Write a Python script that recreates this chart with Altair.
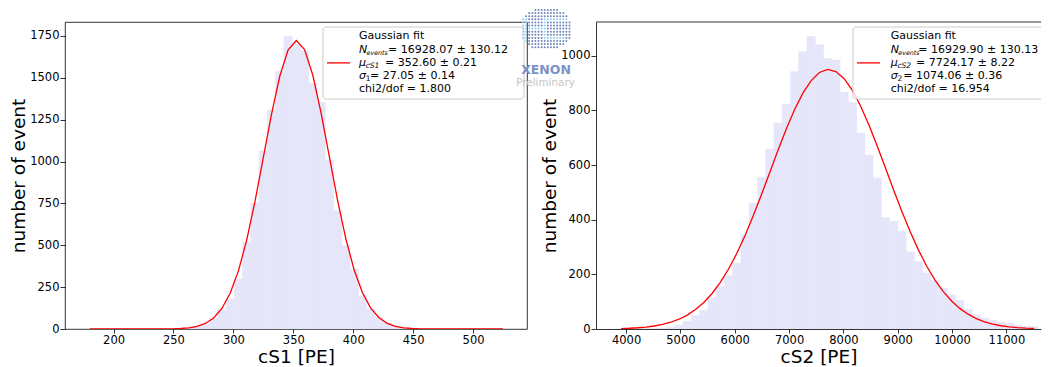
import altair as alt
import pandas as pd

FONT = "DejaVu Sans"

# ---------------- cS1 histogram (bin centres = start + i * width) ----------------
cs1_bin_start = 180.0
cs1_bin_width = 6.9
cs1_counts = [0, 0, 0, 0, 0, 0, 0, 0, 0, 0,
              1, 3, 8, 16, 30, 62, 115, 179, 298, 517,
              752, 1064, 1307, 1537, 1746, 1700, 1661, 1466, 1353, 1008,
              706, 497, 358, 199, 119, 70, 36, 20, 10, 5,
              2, 1, 0, 0, 0, 0, 0, 0, 0, 0, 0]
cs1_fit = [0, 0, 0, 0, 0, 0, 0.01, 0.04, 0.14, 0.41,
           1.1, 2.9, 7.0, 15.7, 33.3, 65.9, 122.4, 213, 347, 531,
           760, 1020, 1282, 1509, 1666, 1722.6, 1669, 1515, 1289, 1027,
           767, 537, 352, 216, 124.5, 67.2, 34.0, 16.1, 7.1, 3.0,
           1.2, 0.42, 0.14, 0.04, 0.01, 0, 0, 0, 0, 0, 0]

# ---------------- cS2 histogram ----------------
cs2_bin_start = 3910.0
cs2_bin_width = 152.0
cs2_counts = [0, 0, 1, 1, 2, 3, 6, 14, 28, 49,
              69, 113, 155, 195, 241, 345, 461, 555, 658, 753,
              823, 942, 1015, 1070, 1040, 990, 984, 866, 828, 716,
              636, 553, 408, 394, 357, 282, 247, 205, 177, 149,
              125, 104, 72, 52, 40, 31, 25, 19, 14, 10, 8]
cs2_fit = [1.7, 2.8, 4.6, 7.2, 11.0, 16.7, 24.7, 35.8, 50.9, 71.0,
           97.1, 130.0, 170.7, 219.6, 277.0, 342.5, 415.1, 493.1, 574.0, 655.0,
           732.6, 803.2, 863.2, 909.2, 938.7, 949.9, 942.2, 916.1, 873.0, 815.4,
           746.5, 669.8, 589.2, 508.0, 429.3, 355.6, 288.7, 229.7, 179.2, 137.0,
           102.6, 75.4, 54.3, 38.3, 26.5, 18.0, 11.9, 7.8, 5.0, 3.1, 1.9]

cs1_xticks = [200, 250, 300, 350, 400, 450, 500]
cs1_yticks = [0, 250, 500, 750, 1000, 1250, 1500, 1750]
cs2_xticks = [4000, 5000, 6000, 7000, 8000, 9000, 10000, 11000]
cs2_yticks = [0, 200, 400, 600, 800, 1000]

cs1_legend = {
    "title": "Gaussian fit",
    "n": ("N", "events", "= 16928.07 \u00b1 130.12"),
    "mu": ("\u03bc", "cS1", "= 352.60 \u00b1 0.21"),
    "sigma": ("\u03c3", "1", "= 27.05 \u00b1 0.14"),
    "chi": "chi2/dof = 1.800",
}
cs2_legend = {
    "title": "Gaussian fit",
    "n": ("N", "events", "= 16929.90 \u00b1 130.13"),
    "mu": ("\u03bc", "cS2", "= 7724.17 \u00b1 8.22"),
    "sigma": ("\u03c3", "2", "= 1074.06 \u00b1 0.36"),
    "chi": "chi2/dof = 16.954",
}

W1, W2, H = 462, 445, 307
one = pd.DataFrame({"a": [0]})
BAR = "#e6e6fa"


def hist_frame(start, width, counts, fit):
    centers = [start + width * i for i in range(len(counts))]
    return pd.DataFrame({
        "center": centers,
        "lo": [c - width / 2 for c in centers],
        "hi": [c + width / 2 for c in centers],
        "count": counts,
        "fit": fit,
    })


def txt(x, y, s, size=11, style="normal", dy=0, clip=False):
    return alt.Chart(one).mark_text(
        align="left", baseline="middle", font=FONT, fontSize=size,
        fontStyle=style, color="black", dy=dy, clip=clip
    ).encode(x=alt.value(x), y=alt.value(y), text=alt.value(s))


def legend_layers(leg, bx, tx, eq_n, eq_mu, eq_sig, clip=False):
    ys = [14.3, 27.6, 40.9, 54.2, 67.0]
    box = alt.Chart(one).mark_rect(
        fill="white", fillOpacity=0.8, stroke="#cccccc", strokeWidth=1, cornerRadius=3,
        clip=clip
    ).encode(x=alt.value(bx), x2=alt.value(bx + 201), y=alt.value(5), y2=alt.value(77))
    sample = alt.Chart(one).mark_rule(color="red", strokeWidth=1.3).encode(
        x=alt.value(bx + 4), x2=alt.value(bx + 27), y=alt.value(ys[2])
    )
    layers = [box, sample, txt(tx, ys[0], leg["title"], clip=clip)]
    n = leg["n"]
    layers += [txt(tx, ys[1], n[0], style="italic", clip=clip),
               txt(tx + 7.6, ys[1], n[1], size=6.3, style="italic", dy=3, clip=clip),
               txt(tx + eq_n, ys[1], n[2], clip=clip)]
    m = leg["mu"]
    layers += [txt(tx, ys[2], m[0], style="italic", clip=clip),
               txt(tx + 6.7, ys[2], m[1], size=7.5, style="italic", dy=3, clip=clip),
               txt(tx + eq_mu, ys[2], m[2], clip=clip)]
    s = leg["sigma"]
    layers += [txt(tx, ys[3], s[0], style="italic", clip=clip),
               txt(tx + 6.7, ys[3], s[1], size=7.5, dy=3, clip=clip),
               txt(tx + eq_sig, ys[3], s[2], clip=clip)]
    layers.append(txt(tx, ys[4], leg["chi"], clip=clip))
    return layers


def panel(df, w, xdom, xticks, ydom, yticks, xtitle, legend, extra=None, spines=False):
    xs = alt.Scale(domain=xdom, nice=False, zero=False)
    ys = alt.Scale(domain=ydom, nice=False, zero=True)
    dom = dict(domain=True, domainColor="black", domainWidth=0.8) if spines else {}
    bars = alt.Chart(df).mark_rect(color=BAR, stroke=BAR, strokeWidth=0.6, clip=True).encode(
        x=alt.X("lo:Q", scale=xs,
                axis=alt.Axis(values=xticks, format="d", title=xtitle, tickSize=4,
                              labelPadding=1, titlePadding=1.5, **dom)),
        x2="hi:Q",
        y=alt.Y("count:Q", scale=ys,
                axis=alt.Axis(values=yticks, format="d", title="number of event",
                              tickSize=5, labelPadding=1, titlePadding=1.5, **dom)),
        y2=alt.datum(0),
    )
    line = alt.Chart(df).mark_line(color="red", strokeWidth=1.3, clip=True).encode(
        x="center:Q", y="fit:Q"
    )
    layers = [bars, line] + legend
    if spines:
        layers.append(alt.Chart(one).mark_rule(color="black", strokeWidth=0.8).encode(
            x=alt.value(0), x2=alt.value(w), y=alt.value(0)))
    if extra:
        layers += extra
    ch = alt.layer(*layers).properties(width=w, height=H)
    if spines:
        ch = ch.properties(view=alt.ViewBackground(stroke="transparent"))
    return ch


# ---------------- XENON logo (decoration, pixel positions) ----------------
logo_rows = []
for r in range(13):
    for c in range(16):
        px = -73 + 3.1 * c
        py = -12 + 3.1 * r
        u = (px + 50) / 25.5
        v = (py - 7) / 21.0
        if abs(u) ** 2.2 + abs(v) ** 2.2 > 1.0:
            continue
        light = (r == 3 and c >= 7) or (c <= 1 and 3 <= r <= 10) or \
                (r == 6 and 1 <= c <= 7) or (r == 9 and 7 <= c <= 13) or (c == 7 and 3 <= r <= 9)
        logo_rows.append({"px": px, "py": py, "col": "#8fd0f0" if light else "#7086bb"})
logo_df = pd.DataFrame(logo_rows)
logo_dots = alt.Chart(logo_df).mark_circle(size=4, opacity=1).encode(
    x=alt.X("px:Q", scale=None, axis=None),
    y=alt.Y("py:Q", scale=None, axis=None),
    color=alt.Color("col:N", scale=None, legend=None),
)
logo_text = alt.Chart(one).mark_text(
    align="center", baseline="middle", font=FONT, fontSize=12.5, fontWeight="bold", color="#7b92c7"
).encode(x=alt.value(-50), y=alt.value(48), text=alt.value("XENON"))
logo_prel = alt.Chart(one).mark_text(
    align="center", baseline="middle", font=FONT, fontSize=10.4, color="#c4c4c4"
).encode(x=alt.value(-50.5), y=alt.value(61), text=alt.value("Preliminary"))

df1 = hist_frame(cs1_bin_start, cs1_bin_width, cs1_counts, cs1_fit)
df2 = hist_frame(cs2_bin_start, cs2_bin_width, cs2_counts, cs2_fit)

left = panel(df1, W1, [159.5, 545], cs1_xticks, [0, 1833], cs1_yticks, "cS1 [PE]",
             legend_layers(cs1_legend, 258, 294, 29, 26, 11))
right = panel(df2, W2, [3446, 3446 + W2 / 0.05433], cs2_xticks, [0, 1123.5], cs2_yticks,
              "cS2 [PE]",
              legend_layers(cs2_legend, 257, 294.7, 27.6, 25.3, 12.6, clip=True),
              extra=[logo_dots, logo_text, logo_prel], spines=True)

chart = alt.hconcat(left, right, spacing=69, bounds="flush").properties(
    padding={"left": 0, "top": 0, "right": 0, "bottom": 0}
).configure_axis(
    labelFont=FONT, titleFont=FONT, labelFontSize=11.5, titleFontSize=18.5,
    titleFontWeight="normal", labelColor="black", titleColor="black",
    tickColor="black", tickWidth=0.8, grid=False, domain=False,
).configure_view(stroke="black", strokeWidth=0.8)

chart.save("out.html", embed_options={"renderer": "svg", "actions": False})
